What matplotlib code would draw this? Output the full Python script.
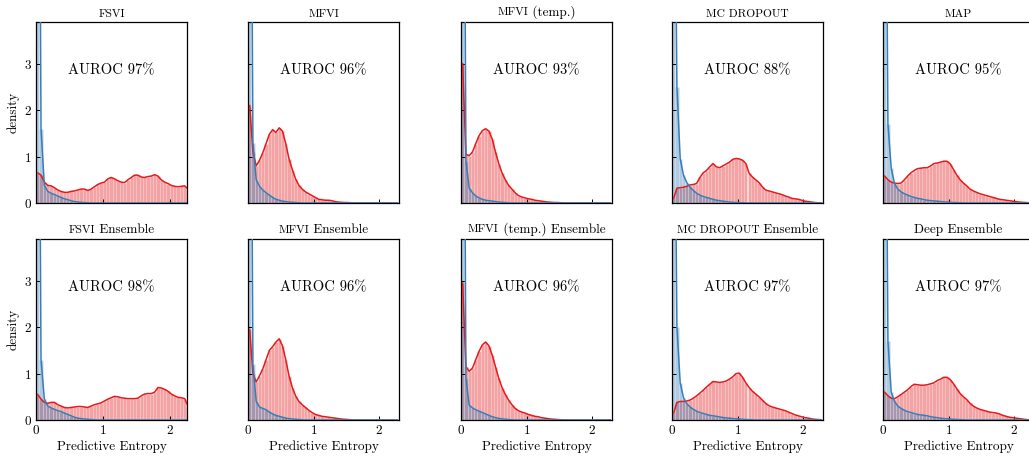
import numpy as np
import matplotlib
matplotlib.use("Agg")
import matplotlib.pyplot as plt
from matplotlib.colors import to_rgba
from matplotlib.offsetbox import TextArea, HPacker, AnchoredOffsetbox

plt.rcParams['font.family'] = ['cmr10', 'DejaVu Serif']
plt.rcParams['mathtext.fontset'] = 'cm'
plt.rcParams['axes.formatter.use_mathtext'] = True

# histogram bins: width 0.05 starting at 0
bin_width = 0.05
n_bins = 46

# small-caps part / normal part of each title
titles = [
    [("FSVI", ""), ("MFVI", ""), ("MFVI", " (temp.)"), ("MC DROPOUT", ""), ("MAP", "")],
    [("FSVI", " Ensemble"), ("MFVI", " Ensemble"), ("MFVI", " (temp.) Ensemble"),
     ("MC DROPOUT", " Ensemble"), ("", "Deep Ensemble")],
]
auroc = [[97, 96, 93, 88, 95], [98, 96, 96, 97, 97]]
x_max = [2.26, 2.3, 2.3, 2.3, 2.3]

# out-of-distribution (red) densities per bin
ood_fsvi = [0.65, 0.6, 0.45, 0.38, 0.37, 0.33, 0.28, 0.25, 0.23, 0.23, 0.25, 0.26, 0.28, 0.3, 0.3,
            0.27, 0.3, 0.35, 0.4, 0.43, 0.45, 0.52, 0.55, 0.52, 0.48, 0.45, 0.44, 0.5, 0.55, 0.6,
            0.6, 0.56, 0.55, 0.57, 0.58, 0.61, 0.58, 0.5, 0.45, 0.42, 0.38, 0.36, 0.35, 0.36,
            0.37, 0.3]
ood_mfvi = [2.1, 1.1, 0.8, 0.92, 1.08, 1.28, 1.48, 1.58, 1.52, 1.62, 1.55, 1.28, 0.95, 0.72, 0.52,
            0.38, 0.3, 0.24, 0.2, 0.16, 0.12, 0.08, 0.07, 0.06, 0.06, 0.05, 0.03, 0.02, 0.015,
            0.01, 0.01, 0.005]
ood_mfvi_t = [3.0, 1.05, 1.02, 1.1, 1.28, 1.45, 1.56, 1.6, 1.55, 1.38, 1.1, 0.85, 0.65, 0.5, 0.38,
              0.3, 0.22, 0.16, 0.13, 0.11, 0.09, 0.08, 0.06, 0.05, 0.04, 0.03, 0.02, 0.015, 0.01,
              0.01, 0.005]
ood_mcd = [0.1, 0.32, 0.33, 0.34, 0.36, 0.39, 0.4, 0.42, 0.55, 0.65, 0.7, 0.78, 0.85, 0.78, 0.76,
           0.8, 0.84, 0.88, 0.94, 0.96, 0.95, 0.92, 0.85, 0.64, 0.56, 0.5, 0.44, 0.35, 0.28, 0.26,
           0.24, 0.22, 0.2, 0.18, 0.15, 0.13, 0.1, 0.09, 0.08, 0.06, 0.04, 0.03, 0.02, 0.01,
           0.005, 0.0]
ood_map = [0.58, 0.5, 0.45, 0.43, 0.42, 0.43, 0.5, 0.58, 0.65, 0.7, 0.74, 0.75, 0.76, 0.76, 0.8,
           0.85, 0.86, 0.88, 0.9, 0.9, 0.84, 0.72, 0.6, 0.5, 0.43, 0.37, 0.3, 0.26, 0.23, 0.2,
           0.18, 0.16, 0.14, 0.12, 0.1, 0.08, 0.07, 0.06, 0.05, 0.04, 0.03, 0.02, 0.015, 0.01,
           0.005, 0.0]
ood_fsvi_e = [0.55, 0.45, 0.38, 0.36, 0.38, 0.38, 0.33, 0.3, 0.27, 0.26, 0.27, 0.28, 0.29, 0.29,
              0.28, 0.27, 0.3, 0.33, 0.35, 0.37, 0.41, 0.45, 0.48, 0.51, 0.5, 0.48, 0.47, 0.46,
              0.46, 0.46, 0.47, 0.52, 0.56, 0.57, 0.57, 0.6, 0.7, 0.69, 0.66, 0.62, 0.56, 0.52,
              0.49, 0.48, 0.46, 0.3]
ood_mfvi_e = [1.95, 1.0, 0.82, 0.95, 1.1, 1.3, 1.5, 1.58, 1.68, 1.75, 1.6, 1.3, 0.95, 0.7, 0.52,
              0.4, 0.33, 0.27, 0.21, 0.16, 0.12, 0.1, 0.08, 0.07, 0.06, 0.05, 0.04, 0.03, 0.02,
              0.015, 0.01, 0.005]
ood_mfvi_t_e = [2.95, 1.15, 1.05, 1.12, 1.3, 1.48, 1.62, 1.68, 1.6, 1.4, 1.15, 0.9, 0.7, 0.55,
                0.43, 0.33, 0.25, 0.2, 0.17, 0.15, 0.12, 0.1, 0.08, 0.07, 0.05, 0.04, 0.03, 0.02,
                0.015, 0.01, 0.005]
ood_mcd_e = [0.15, 0.38, 0.4, 0.4, 0.41, 0.43, 0.47, 0.52, 0.58, 0.64, 0.71, 0.77, 0.83, 0.82,
             0.81, 0.82, 0.84, 0.88, 0.93, 1.0, 1.01, 0.92, 0.8, 0.7, 0.62, 0.56, 0.5, 0.43, 0.36,
             0.31, 0.28, 0.26, 0.24, 0.22, 0.2, 0.17, 0.14, 0.11, 0.09, 0.07, 0.05, 0.04, 0.025,
             0.015, 0.01, 0.005]
ood_deep_e = [0.6, 0.52, 0.47, 0.46, 0.5, 0.55, 0.6, 0.65, 0.72, 0.77, 0.76, 0.75, 0.75, 0.76,
              0.78, 0.8, 0.85, 0.88, 0.92, 0.92, 0.87, 0.78, 0.67, 0.57, 0.5, 0.44, 0.36, 0.3,
              0.26, 0.23, 0.21, 0.19, 0.17, 0.16, 0.15, 0.13, 0.1, 0.08, 0.06, 0.05, 0.04, 0.03,
              0.02, 0.01, 0.005, 0.0]

# in-distribution (blue) densities per bin
ind_fsvi = [16.0, 1.6, 0.38, 0.25, 0.21, 0.18, 0.15, 0.12, 0.09, 0.07, 0.05, 0.03, 0.02, 0.015,
            0.01, 0.005]
ind_mfvi = [14.0, 1.3, 0.5, 0.36, 0.28, 0.22, 0.17, 0.12, 0.08, 0.06, 0.04, 0.03, 0.02, 0.015,
            0.01, 0.005]
ind_mfvi_t = [15.0, 0.9, 0.32, 0.22, 0.15, 0.11, 0.08, 0.06, 0.05, 0.04, 0.03, 0.02, 0.015,
              0.01, 0.005]
ind_mcd = [10.0, 2.5, 0.95, 0.6, 0.44, 0.34, 0.27, 0.21, 0.17, 0.14, 0.12, 0.1, 0.08, 0.06,
           0.05, 0.04, 0.03, 0.02, 0.015, 0.01, 0.008, 0.005]
ind_map = [12.0, 1.7, 0.75, 0.42, 0.3, 0.24, 0.2, 0.17, 0.14, 0.12, 0.1, 0.09, 0.07, 0.06, 0.05,
           0.045, 0.04, 0.03, 0.025, 0.02, 0.015, 0.01, 0.008, 0.005]
ind_fsvi_e = [14.0, 1.3, 0.45, 0.3, 0.26, 0.23, 0.2, 0.18, 0.15, 0.12, 0.09, 0.06, 0.04, 0.03,
              0.02, 0.015, 0.01, 0.005]
ind_mfvi_e = [14.0, 1.2, 0.4, 0.28, 0.25, 0.22, 0.17, 0.13, 0.1, 0.08, 0.06, 0.04, 0.03, 0.02,
              0.015, 0.01, 0.005]
ind_mfvi_t_e = [15.0, 0.9, 0.32, 0.26, 0.22, 0.19, 0.16, 0.13, 0.1, 0.07, 0.05, 0.035, 0.025,
                0.015, 0.01, 0.005]
ind_mcd_e = [10.0, 2.0, 0.8, 0.48, 0.35, 0.28, 0.23, 0.19, 0.16, 0.14, 0.12, 0.1, 0.09, 0.08,
             0.065, 0.055, 0.045, 0.04, 0.03, 0.025, 0.02, 0.015, 0.01, 0.008, 0.005]
ind_deep_e = [12.0, 1.7, 0.6, 0.4, 0.3, 0.25, 0.21, 0.18, 0.16, 0.14, 0.12, 0.11, 0.1, 0.09,
              0.07, 0.06, 0.05, 0.04, 0.03, 0.025, 0.02, 0.015, 0.01, 0.008, 0.005]

ood = [[ood_fsvi, ood_mfvi, ood_mfvi_t, ood_mcd, ood_map],
       [ood_fsvi_e, ood_mfvi_e, ood_mfvi_t_e, ood_mcd_e, ood_deep_e]]
ind = [[ind_fsvi, ind_mfvi, ind_mfvi_t, ind_mcd, ind_map],
       [ind_fsvi_e, ind_mfvi_e, ind_mfvi_t_e, ind_mcd_e, ind_deep_e]]

red = '#e41a1c'
blue = '#377eb8'
fs = 9.5
sc_fs = 8.3

centers = bin_width / 2 + bin_width * np.arange(n_bins)


def pad(v):
    v = np.asarray(v, dtype=float)
    return np.pad(v, (0, n_bins - len(v)))


def draw_hist(ax, vals, color):
    vals = pad(vals)
    ax.bar(centers, vals, width=bin_width, facecolor=to_rgba(color, 0.4),
           edgecolor=(1, 1, 1, 0.3), linewidth=0.4, zorder=1)
    return vals


def add_title(ax, sc, normal):
    parts = []
    if sc:
        parts.append(TextArea(sc, textprops=dict(fontsize=sc_fs)))
    if normal:
        parts.append(TextArea(normal, textprops=dict(fontsize=fs)))
    box = HPacker(children=parts, align="baseline", pad=0, sep=0)
    anch = AnchoredOffsetbox(loc='lower center', child=box, pad=0, borderpad=0.25,
                             frameon=False, bbox_to_anchor=(0.5, 1.0),
                             bbox_transform=ax.transAxes)
    ax.add_artist(anch)


W, H = 1029, 457
fig = plt.figure(figsize=(W / 100, H / 100), dpi=100)

col_left = [36, 248, 461, 672, 883]
ax_w = 151
row_top = [22, 239]
ax_h = 181

for r in range(2):
    for c in range(5):
        ax = fig.add_axes([col_left[c] / W, 1 - (row_top[r] + ax_h) / H, ax_w / W, ax_h / H])
        o = draw_hist(ax, ood[r][c], red)
        i = draw_hist(ax, ind[r][c], blue)
        ax.plot(centers, o, color=red, lw=1.1, zorder=3)
        ax.plot(centers, i, color=blue, lw=1.1, zorder=3)
        ax.set_xlim(0, x_max[c])
        ax.set_ylim(0, 3.9)
        ax.set_xticks([0, 1, 2])
        ax.set_yticks([0, 1, 2, 3])
        ax.tick_params(direction='in', length=3, width=0.7, labelsize=fs, pad=3)
        for sp in ax.spines.values():
            sp.set_linewidth(0.9)
        if c == 0:
            ax.set_ylabel('density', fontsize=fs, labelpad=3)
        else:
            ax.set_yticklabels([])
        if r == 1:
            ax.set_xlabel('Predictive Entropy', fontsize=fs, labelpad=2)
        else:
            ax.set_xticklabels([])
        ax.text(0.5, 0.73, f'AUROC {auroc[r][c]}%', transform=ax.transAxes,
                ha='center', va='center', fontsize=10.5)
        add_title(ax, *titles[r][c])

fig.savefig('out.png', dpi=100)
